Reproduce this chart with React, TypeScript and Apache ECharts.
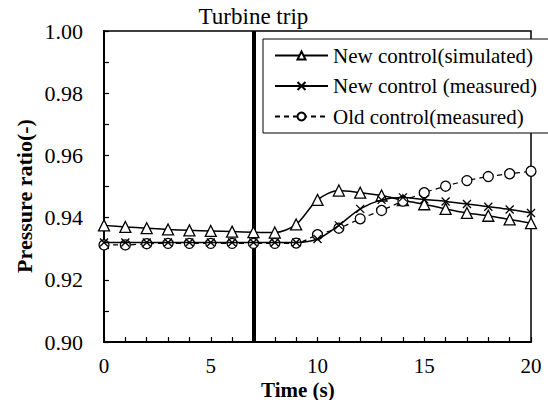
import React, { useEffect, useRef } from "react";
import * as echarts from "echarts";

const times = [0, 1, 2, 3, 4, 5, 6, 7, 8, 9, 10, 11, 12, 13, 14, 15, 16, 17, 18, 19, 20];
const newSimulated = [0.9375, 0.937, 0.9366, 0.9362, 0.9359, 0.9357, 0.9355, 0.9353, 0.9352, 0.9378, 0.9457, 0.9487, 0.948, 0.9471, 0.9456, 0.9443, 0.9428, 0.9415, 0.9406, 0.9394, 0.9382];
const newMeasured = [0.932, 0.932, 0.932, 0.932, 0.932, 0.932, 0.932, 0.932, 0.932, 0.932, 0.9331, 0.9375, 0.9428, 0.9457, 0.9465, 0.9458, 0.9452, 0.9444, 0.9435, 0.9426, 0.9415];
const oldMeasured = [0.9312, 0.9312, 0.9316, 0.9317, 0.9317, 0.9317, 0.9317, 0.9317, 0.9317, 0.9318, 0.9345, 0.9366, 0.9396, 0.9423, 0.9453, 0.948, 0.9501, 0.9519, 0.9532, 0.9541, 0.9549];
const seriesNames = ["New control(simulated)", "New control (measured)", "Old control(measured)"];
const tripTime = 7;
const tripLabel = "Turbine trip";
const xTitle = "Time (s)";
const yTitle = "Pressure ratio(-)";

const FONT = "Liberation Serif";

export default function App() {
  const ref = useRef<HTMLDivElement>(null);
  useEffect(() => {
    if (!ref.current) return;
    const chart = echarts.init(ref.current, undefined, { renderer: "svg" });
    const pair = (arr: number[]) => times.map((t, i) => [t, arr[i]]);
    const markerStyle = { color: "#fff", borderColor: "#000", borderWidth: 1.3 };
    chart.setOption({
      animation: false,
      backgroundColor: "#fff",
      textStyle: { fontFamily: FONT, color: "#000" },
      grid: { left: 104, right: 17, top: 31, bottom: 58, show: true, borderColor: "#000", borderWidth: 1.5, backgroundColor: "transparent" },
      graphic: [
        {
          type: "text",
          left: 261,
          top: 379,
          style: { text: xTitle, fontFamily: FONT, fontSize: 21, fontWeight: "bold", fill: "#000" },
        },
        {
          type: "text",
          x: 13,
          y: 196,
          rotation: Math.PI / 2,
          style: { text: yTitle, fontFamily: FONT, fontSize: 22, fontWeight: "bold", fill: "#000", align: "center", verticalAlign: "top" },
        },
      ],
      legend: {
        orient: "vertical",
        left: 263,
        top: 39,
        padding: [6, 12, 6, 11],
        itemWidth: 53,
        itemHeight: 10,
        itemGap: 9.5,
        borderColor: "#000",
        borderWidth: 1,
        backgroundColor: "#fff",
        textStyle: { fontFamily: FONT, fontSize: 21, color: "#000" },
        data: seriesNames,
      },
      xAxis: {
        type: "value",
        min: 0,
        max: 20,
        interval: 5,
        axisLine: { show: true, lineStyle: { color: "#000", width: 2 } },
        axisTick: { show: true, inside: true, length: 5, lineStyle: { color: "#000", width: 1.2 } },
        minorTick: { show: true, splitNumber: 5, length: 5, lineStyle: { color: "#000", width: 1.2 } },
        axisLabel: { fontFamily: FONT, fontSize: 21, color: "#000", margin: 13 },
        splitLine: { show: false },
      },
      yAxis: {
        type: "value",
        min: 0.9,
        max: 1.0,
        interval: 0.02,
        axisLine: { show: true, lineStyle: { color: "#000", width: 2 } },
        axisTick: { show: true, inside: true, length: 5, lineStyle: { color: "#000", width: 1.2 } },
        minorTick: { show: true, splitNumber: 2, length: 5, lineStyle: { color: "#000", width: 1.2 } },
        axisLabel: { fontFamily: FONT, fontSize: 22, color: "#000", margin: 21, formatter: (v: number) => v.toFixed(2) },
        splitLine: { show: false },
      },
      series: [
        {
          name: seriesNames[0],
          type: "line",
          data: pair(newSimulated),
          smooth: 0.3,
          symbol: "triangle",
          symbolSize: 11,
          itemStyle: markerStyle,
          lineStyle: { color: "#000", width: 1.5 },
          z: 3,
          markLine: {
            silent: true,
            symbol: "none",
            data: [{ xAxis: tripTime }],
            lineStyle: { color: "#000", width: 4, type: "solid" },
            label: { show: true, position: "end", formatter: tripLabel, fontFamily: FONT, fontSize: 23, color: "#000", distance: 3 },
            z: 2,
          },
        },
        {
          name: seriesNames[1],
          type: "line",
          data: pair(newMeasured),
          smooth: 0.3,
          symbol: "path://M0,0L10,10M10,0L0,10",
          symbolSize: 8,
          itemStyle: { color: "#000", borderColor: "#000", borderWidth: 1.3 },
          lineStyle: { color: "#000", width: 1.5 },
          z: 4,
        },
        {
          name: seriesNames[2],
          type: "line",
          data: pair(oldMeasured),
          smooth: 0.3,
          symbol: "circle",
          symbolSize: 10,
          itemStyle: markerStyle,
          lineStyle: { color: "#000", width: 1.2, type: [5, 4] },
          z: 3,
        },
      ],
    });
    return () => chart.dispose();
  }, []);
  return <div ref={ref} style={{ width: 548, height: 400, position: "absolute", left: 0, top: 0 }} />;
}
